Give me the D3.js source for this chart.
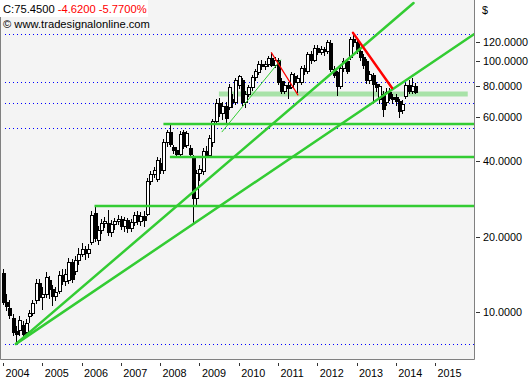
<!DOCTYPE html>
<html><head><meta charset="utf-8">
<script src="https://cdn.jsdelivr.net/npm/d3@7"></script>
<style>
body{margin:0;background:#fff}
svg{display:block}
text{font-family:"Liberation Sans",Arial,sans-serif;font-size:10.8px;fill:#000}
</style>
</head><body>
<svg id="c" width="532" height="380"></svg>
<script>
// ---- data (monthly OHLC, Jan 2004 .. Jul 2014) ----
const firstMonth = [2004, 0];
const opens  = [14.3,11.0,10.4,9.5,8.4,8.5,8.9,8.3,9.6,9.9,11.2,13.0,
                11.5,11.8,13.4,12.3,11.6,12.1,14.0,13.3,13.4,15.8,14.6,16.1,
                17.1,17.9,17.2,19.0,24.8,19.3,21.2,22.6,22.6,20.8,22.4,23.0,
                23.6,22.1,23.3,21.6,22.8,24.3,23.0,24.2,24.7,33.3,35.5,34.0,
                39.5,36.8,47.5,52.3,45.6,44.2,42.6,52.5,46.3,45.0,41.0,28.4,
                36.0,36.5,44.0,42.5,47.5,58.0,68.5,62.0,66.5,66.0,70.5,68.8,
                80.5,84.0,68.8,74.2,79.0,86.5,91.0,98.0,95.5,97.5,103.0,97.0,
                101.0,83.5,76.5,80.5,79.0,87.5,82.5,82.5,94.5,91.5,107.0,101.5,
                113.5,109.5,112.5,110.0,119.0,93.5,90.5,80.0,94.5,100.5,104.0,123.0,
                120.0,110.5,104.5,100.0,84.0,88.5,81.5,70.5,74.0,69.0,75.5,72.0,
                72.0,69.8,64.0,73.0,80.5,76.0,80.07];
const highs  = [14.8,11.8,11.2,9.8,8.8,9.6,9.2,9.4,10.2,11.2,13.5,13.6,
                12.6,14.5,13.9,12.8,12.6,14.6,14.9,14.9,16.5,16.3,16.8,18.0,
                18.8,18.4,18.6,25.2,26.6,22.0,23.4,24.0,25.5,23.2,23.8,24.4,
                24.2,24.0,23.8,23.5,25.0,25.2,25.0,25.2,34.2,36.5,38.0,41.5,
                41.2,49.0,53.5,56.0,46.5,45.5,53.0,53.5,53.0,46.5,42.5,37.0,
                38.5,45.0,46.0,51.0,59.0,71.0,71.5,69.0,69.0,81.0,74.0,86.0,
                88.5,86.0,76.0,80.5,88.0,93.5,100.5,101.0,100.0,105.0,108.4,104.0,
                103.0,85.5,83.5,83.0,91.0,90.0,88.0,96.0,97.0,109.0,110.0,116.0,
                116.0,115.0,114.5,122.0,121.5,95.5,92.0,96.0,103.0,102.0,125.0,129.1,
                123.0,112.0,107.0,102.0,92.0,90.0,83.0,81.5,76.5,78.0,78.0,74.0,
                74.0,71.0,70.0,82.0,84.5,85.5,82.0];
const lows   = [10.8,10.2,9.5,8.1,7.46,8.1,7.9,8.0,9.1,9.7,10.9,11.2,
                10.3,11.5,11.4,10.7,11.2,11.9,12.9,12.8,13.0,13.2,14.2,15.5,
                16.7,16.3,16.6,18.6,19.2,18.6,20.7,21.9,20.2,20.1,21.4,22.4,
                21.5,21.0,20.8,21.0,22.3,22.4,22.2,22.0,24.3,32.3,34.6,33.2,
                35.8,36.0,46.0,46.0,43.2,41.5,41.8,45.0,45.5,41.8,22.6,27.0,
                33.5,35.5,41.5,41.6,46.0,56.5,60.5,59.0,57.0,64.5,66.0,67.5,
                78.5,67.0,66.0,72.5,77.0,84.5,89.0,93.5,93.0,95.5,95.5,95.0,
                81.0,75.0,74.5,71.5,78.0,81.0,75.5,81.0,89.0,90.0,99.0,100.0,
                107.0,107.5,106.5,108.5,92.0,86.5,73.5,78.5,92.0,90.0,102.0,115.0,
                108.0,101.0,94.5,82.0,82.0,68.5,76.0,68.5,60.8,67.0,70.0,68.0,
                67.0,59.8,62.0,71.5,74.5,74.5,74.5];
const closes = [11.0,10.6,9.7,8.3,8.2,9.3,8.2,9.0,9.9,10.9,13.0,11.5,
                11.8,13.8,12.3,11.6,12.0,14.0,13.3,14.2,15.8,13.5,16.1,17.1,
                17.9,17.2,17.8,24.4,19.8,21.2,22.6,23.1,20.8,22.4,23.0,23.6,
                22.1,23.3,21.6,22.8,24.3,23.0,24.2,23.2,33.3,35.5,36.8,40.3,
                36.8,47.5,52.3,47.0,44.2,42.6,51.5,45.8,52.0,42.8,28.4,36.0,
                37.2,44.0,42.5,49.5,58.0,68.5,62.0,66.5,59.5,79.0,68.8,84.5,
                87.5,68.8,74.2,79.0,86.5,91.5,98.0,95.5,97.5,103.0,97.0,101.0,
                82.5,76.5,80.5,78.5,89.5,82.5,86.0,94.5,91.5,107.0,101.5,113.5,
                109.5,112.5,110.0,119.5,93.5,88.0,80.0,94.5,100.5,92.0,123.0,120.0,
                110.5,104.5,96.5,84.0,89.5,81.0,79.0,80.0,64.5,75.5,71.5,70.5,
                69.5,63.3,67.5,80.5,76.0,80.07,75.45];

const yearTicks  = [2004,2005,2006,2007,2008,2009,2010,2011,2012,2013,2014,2015];
const priceTicks = [10,20,40,60,80,100,120];
const dottedLevels = [128.7, 82.8, 68.3, 54.3, 7.45];
// horizontal support lines: [start year, start month, price]
const supportLines = [[2006,4,26.5],[2008,3,41.6],[2008,1,56.3]];
const bandLevel = {from:[2009,6], to:[2015,10], price:74.2};
// trend lines: [[y,m,d,price],[y,m,d,price]]
const greenTrends = [[[2004,4,1,7.46],[2014,5,15,171]],
                     [[2004,4,1,7.46],[2016,0,1,128.7]]];
const thinTrend   = [[2009,6,30,52.4],[2011,0,26,101.3]];
const redThin     = [[2010,10,1,108.4],[2011,6,5,73.5]];
const redThick    = [[2012,10,29,130],[2013,10,27,78.4]];
const lastClose = "75.4500", change = "-4.6200", changePct = "-5.7700%";

// ---- layout ----
const svg = d3.select("#c");
const P = {left:0, right:475, top:0, bottom:360};
const x = d3.scaleTime().domain([new Date(2004,0,1), new Date(2016,0,1)]).range([3, 474.3]);
const y = d3.scaleLog().domain([10,120]).range([312, 41.6]);
const D = (a)=> new Date(a[0],a[1],a[2]||1);

svg.append("rect").attr("x",P.left).attr("y",P.top).attr("width",P.right-P.left).attr("height",P.bottom-P.top)
   .attr("fill","#f4f4f4");
svg.append("defs").append("clipPath").attr("id","clip").append("rect")
   .attr("x",1).attr("y",0).attr("width",P.right-1).attr("height",P.bottom);
const g = svg.append("g").attr("clip-path","url(#clip)");

// dotted levels
g.selectAll(".dot").data(dottedLevels).join("line")
  .attr("x1",5).attr("x2",P.right).attr("y1",d=>Math.round(y(d))+0.5).attr("y2",d=>Math.round(y(d))+0.5)
  .attr("stroke","#0000ff").attr("stroke-width",1).attr("stroke-dasharray","1,3");

// band
g.append("line")
  .attr("x1",x(D(bandLevel.from))).attr("x2",x(D(bandLevel.to)))
  .attr("y1",y(bandLevel.price)).attr("y2",y(bandLevel.price))
  .attr("stroke","#a8e2a8").attr("stroke-width",5);

// candles
const candles = opens.map((o,i)=>({date:new Date(firstMonth[0], firstMonth[1]+i, 1), o, h:highs[i], l:lows[i], c:closes[i]}));
const cg = g.append("g").attr("shape-rendering","crispEdges");
candles.forEach(d=>{
  const cx = Math.round(x(d.date));
  cg.append("line").attr("x1",cx+0.5).attr("x2",cx+0.5).attr("y1",Math.round(y(d.h))).attr("y2",Math.round(y(d.l))+1)
    .attr("stroke","#000");
  const yt = Math.round(y(Math.max(d.o,d.c))), yb = Math.round(y(Math.min(d.o,d.c)));
  if (d.c < d.o) {
    cg.append("rect").attr("x",cx-1).attr("y",yt).attr("width",4).attr("height",Math.max(1,yb-yt+1)).attr("fill","#000");
  } else {
    cg.append("rect").attr("x",cx-0.5).attr("y",yt+0.5).attr("width",3).attr("height",Math.max(0,yb-yt))
      .attr("fill","#fff").attr("stroke","#000").attr("stroke-width",1);
  }
});

// horizontal green lines
g.selectAll(".sup").data(supportLines).join("line")
  .attr("x1",d=>x(new Date(d[0],d[1],1))).attr("x2",P.right)
  .attr("y1",d=>y(d[2])).attr("y2",d=>y(d[2]))
  .attr("stroke","#33cc33").attr("stroke-width",2.5);

// trend lines
const seg = (s)=>({x1:x(D(s[0])), y1:y(s[0][3]), x2:x(D(s[1])), y2:y(s[1][3])});
function drawSeg(s, color, w){
  const p = seg(s);
  g.append("line").attr("x1",p.x1).attr("y1",p.y1).attr("x2",p.x2).attr("y2",p.y2)
   .attr("stroke",color).attr("stroke-width",w).attr("stroke-linecap","round");
}
greenTrends.forEach(s=>drawSeg(s,"#33cc33",2.5));
drawSeg(thinTrend,"#33cc33",1);
drawSeg(redThin,"#ff0000",1.2);
drawSeg(redThick,"#ff0000",2.5);

// border
svg.append("path").attr("d",`M${P.left+0.5},${P.top}V${P.bottom-0.5}H${P.right-0.5}V${P.top}`)
   .attr("fill","none").attr("stroke","#808080").attr("stroke-width",1);

// axes
const xAxis = svg.append("g").attr("transform",`translate(0,${P.bottom+3})`)
  .call(d3.axisBottom(x).tickValues(yearTicks.map(v=>new Date(v,0,1))).tickFormat(d3.timeFormat("%Y")).tickSize(3).tickSizeOuter(0));
xAxis.select(".domain").remove();
xAxis.selectAll(".tick line").attr("stroke","#333").attr("shape-rendering","crispEdges");
xAxis.selectAll(".tick text").attr("text-anchor","start").attr("x",2).attr("y",14).attr("dy",0)
  .style("font-family","'Liberation Sans',Arial,sans-serif").style("font-size","10.8px").attr("fill","#000");

const yAxis = svg.append("g").attr("transform",`translate(${P.right+1},0)`)
  .call(d3.axisRight(y).tickValues(priceTicks).tickFormat(d3.format(".4f")).tickSize(4).tickPadding(3).tickSizeOuter(0));
yAxis.select(".domain").remove();
yAxis.selectAll(".tick line").attr("stroke","#333").attr("shape-rendering","crispEdges");
yAxis.selectAll(".tick text").style("font-family","'Liberation Sans',Arial,sans-serif").style("font-size","10.8px").attr("fill","#000");

svg.append("text").attr("x",482).attr("y",14).text("$");

// header
svg.append("rect").attr("x",0).attr("y",0).attr("width",148).attr("height",17).attr("fill","#fff");
const hdr = svg.append("text").attr("x",3).attr("y",13).style("font-size","11.2px");
hdr.append("tspan").text("C:"+lastClose+" ");
hdr.append("tspan").attr("fill","#ff0000").style("fill","#ff0000").text(change+" "+changePct);
svg.append("text").attr("x",3).attr("y",28).style("font-size","11.2px").text("\u00A9 www.tradesignalonline.com");
</script>
</body></html>
